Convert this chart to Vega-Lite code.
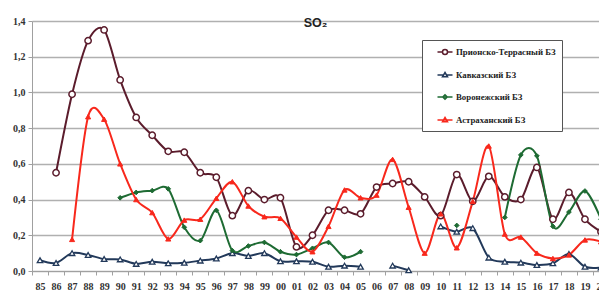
{
  "$schema": "https://vega.github.io/schema/vega-lite/v6.json",
  "width": 577,
  "height": 250,
  "autosize": {"type": "none"},
  "padding": {"left": 32, "top": 21, "right": 0, "bottom": 20},
  "background": "white",
  "config": {
    "view": {"stroke": null},
    "legend": {
      "orient": "none", "legendX": 390, "legendY": 19,
      "strokeColor": "#555555", "fillColor": "white", "padding": 6, "rowPadding": 11,
      "symbolSize": 100, "symbolOffset": 11, "labelOffset": 5, "symbolStrokeWidth": 1.5,
      "labelFont": "Liberation Sans Narrow", "labelFontSize": 8.8, "labelFontWeight": "bold", "labelColor": "#222222"
    }
  },
  "title": {"text": "SO₂", "anchor": "middle", "frame": "group", "offset": -13, "dx": -5, "fontSize": 12.5, "font": "Liberation Sans", "fontWeight": "bold", "color": "#222222"},
  "datasets": {
    "so2": [
      {"yr": "86", "series": "Прионско-Террасный БЗ", "v": 0.55},
      {"yr": "87", "series": "Прионско-Террасный БЗ", "v": 0.99},
      {"yr": "88", "series": "Прионско-Террасный БЗ", "v": 1.29},
      {"yr": "89", "series": "Прионско-Террасный БЗ", "v": 1.35},
      {"yr": "90", "series": "Прионско-Террасный БЗ", "v": 1.07},
      {"yr": "91", "series": "Прионско-Террасный БЗ", "v": 0.86},
      {"yr": "92", "series": "Прионско-Террасный БЗ", "v": 0.76},
      {"yr": "93", "series": "Прионско-Террасный БЗ", "v": 0.67},
      {"yr": "94", "series": "Прионско-Террасный БЗ", "v": 0.665},
      {"yr": "95", "series": "Прионско-Террасный БЗ", "v": 0.55},
      {"yr": "96", "series": "Прионско-Террасный БЗ", "v": 0.525},
      {"yr": "97", "series": "Прионско-Террасный БЗ", "v": 0.31},
      {"yr": "98", "series": "Прионско-Террасный БЗ", "v": 0.45},
      {"yr": "99", "series": "Прионско-Террасный БЗ", "v": 0.40},
      {"yr": "00", "series": "Прионско-Террасный БЗ", "v": 0.41},
      {"yr": "01", "series": "Прионско-Террасный БЗ", "v": 0.135},
      {"yr": "02", "series": "Прионско-Террасный БЗ", "v": 0.20},
      {"yr": "03", "series": "Прионско-Террасный БЗ", "v": 0.34},
      {"yr": "04", "series": "Прионско-Террасный БЗ", "v": 0.34},
      {"yr": "05", "series": "Прионско-Террасный БЗ", "v": 0.32},
      {"yr": "06", "series": "Прионско-Террасный БЗ", "v": 0.47},
      {"yr": "07", "series": "Прионско-Террасный БЗ", "v": 0.49},
      {"yr": "08", "series": "Прионско-Террасный БЗ", "v": 0.50},
      {"yr": "09", "series": "Прионско-Террасный БЗ", "v": 0.415},
      {"yr": "10", "series": "Прионско-Террасный БЗ", "v": 0.31},
      {"yr": "11", "series": "Прионско-Террасный БЗ", "v": 0.54},
      {"yr": "12", "series": "Прионско-Террасный БЗ", "v": 0.39},
      {"yr": "13", "series": "Прионско-Террасный БЗ", "v": 0.53},
      {"yr": "14", "series": "Прионско-Террасный БЗ", "v": 0.415},
      {"yr": "15", "series": "Прионско-Террасный БЗ", "v": 0.40},
      {"yr": "16", "series": "Прионско-Террасный БЗ", "v": 0.58},
      {"yr": "17", "series": "Прионско-Террасный БЗ", "v": 0.29},
      {"yr": "18", "series": "Прионско-Террасный БЗ", "v": 0.44},
      {"yr": "19", "series": "Прионско-Террасный БЗ", "v": 0.29},
      {"yr": "20", "series": "Прионско-Террасный БЗ", "v": 0.22},
      {"yr": "85", "series": "Кавказский БЗ", "v": 0.06},
      {"yr": "86", "series": "Кавказский БЗ", "v": 0.045},
      {"yr": "87", "series": "Кавказский БЗ", "v": 0.10},
      {"yr": "88", "series": "Кавказский БЗ", "v": 0.09},
      {"yr": "89", "series": "Кавказский БЗ", "v": 0.067},
      {"yr": "90", "series": "Кавказский БЗ", "v": 0.065},
      {"yr": "91", "series": "Кавказский БЗ", "v": 0.04},
      {"yr": "92", "series": "Кавказский БЗ", "v": 0.052},
      {"yr": "93", "series": "Кавказский БЗ", "v": 0.043},
      {"yr": "94", "series": "Кавказский БЗ", "v": 0.046},
      {"yr": "95", "series": "Кавказский БЗ", "v": 0.058},
      {"yr": "96", "series": "Кавказский БЗ", "v": 0.07},
      {"yr": "97", "series": "Кавказский БЗ", "v": 0.10},
      {"yr": "98", "series": "Кавказский БЗ", "v": 0.084},
      {"yr": "99", "series": "Кавказский БЗ", "v": 0.10},
      {"yr": "00", "series": "Кавказский БЗ", "v": 0.055},
      {"yr": "01", "series": "Кавказский БЗ", "v": 0.055},
      {"yr": "02", "series": "Кавказский БЗ", "v": 0.052},
      {"yr": "03", "series": "Кавказский БЗ", "v": 0.024},
      {"yr": "04", "series": "Кавказский БЗ", "v": 0.03},
      {"yr": "05", "series": "Кавказский БЗ", "v": 0.024},
      {"yr": "06", "series": "Кавказский БЗ", "v": null},
      {"yr": "07", "series": "Кавказский БЗ", "v": 0.03},
      {"yr": "08", "series": "Кавказский БЗ", "v": 0.004},
      {"yr": "09", "series": "Кавказский БЗ", "v": null},
      {"yr": "10", "series": "Кавказский БЗ", "v": 0.25},
      {"yr": "11", "series": "Кавказский БЗ", "v": 0.22},
      {"yr": "12", "series": "Кавказский БЗ", "v": 0.24},
      {"yr": "13", "series": "Кавказский БЗ", "v": 0.075},
      {"yr": "14", "series": "Кавказский БЗ", "v": 0.052},
      {"yr": "15", "series": "Кавказский БЗ", "v": 0.047},
      {"yr": "16", "series": "Кавказский БЗ", "v": 0.034},
      {"yr": "17", "series": "Кавказский БЗ", "v": 0.043},
      {"yr": "18", "series": "Кавказский БЗ", "v": 0.095},
      {"yr": "19", "series": "Кавказский БЗ", "v": 0.024},
      {"yr": "20", "series": "Кавказский БЗ", "v": 0.02},
      {"yr": "90", "series": "Воронежский БЗ", "v": 0.41},
      {"yr": "91", "series": "Воронежский БЗ", "v": 0.44},
      {"yr": "92", "series": "Воронежский БЗ", "v": 0.45},
      {"yr": "93", "series": "Воронежский БЗ", "v": 0.46},
      {"yr": "94", "series": "Воронежский БЗ", "v": 0.245},
      {"yr": "95", "series": "Воронежский БЗ", "v": 0.17},
      {"yr": "96", "series": "Воронежский БЗ", "v": 0.34},
      {"yr": "97", "series": "Воронежский БЗ", "v": 0.114},
      {"yr": "98", "series": "Воронежский БЗ", "v": 0.14},
      {"yr": "99", "series": "Воронежский БЗ", "v": 0.16},
      {"yr": "00", "series": "Воронежский БЗ", "v": 0.108},
      {"yr": "01", "series": "Воронежский БЗ", "v": 0.092},
      {"yr": "02", "series": "Воронежский БЗ", "v": 0.127},
      {"yr": "03", "series": "Воронежский БЗ", "v": 0.16},
      {"yr": "04", "series": "Воронежский БЗ", "v": 0.077},
      {"yr": "05", "series": "Воронежский БЗ", "v": 0.108},
      {"yr": "06", "series": "Воронежский БЗ", "v": null},
      {"yr": "10", "series": "Воронежский БЗ", "v": null},
      {"yr": "11", "series": "Воронежский БЗ", "v": 0.255},
      {"yr": "12", "series": "Воронежский БЗ", "v": null},
      {"yr": "13", "series": "Воронежский БЗ", "v": null},
      {"yr": "14", "series": "Воронежский БЗ", "v": 0.30},
      {"yr": "15", "series": "Воронежский БЗ", "v": 0.65},
      {"yr": "16", "series": "Воронежский БЗ", "v": 0.645},
      {"yr": "17", "series": "Воронежский БЗ", "v": 0.25},
      {"yr": "18", "series": "Воронежский БЗ", "v": 0.33},
      {"yr": "19", "series": "Воронежский БЗ", "v": 0.448},
      {"yr": "20", "series": "Воронежский БЗ", "v": 0.29},
      {"yr": "87", "series": "Астраханский БЗ", "v": 0.177},
      {"yr": "88", "series": "Астраханский БЗ", "v": 0.864},
      {"yr": "89", "series": "Астраханский БЗ", "v": 0.85},
      {"yr": "90", "series": "Астраханский БЗ", "v": 0.60},
      {"yr": "91", "series": "Астраханский БЗ", "v": 0.40},
      {"yr": "92", "series": "Астраханский БЗ", "v": 0.327},
      {"yr": "93", "series": "Астраханский БЗ", "v": 0.18},
      {"yr": "94", "series": "Астраханский БЗ", "v": 0.285},
      {"yr": "95", "series": "Астраханский БЗ", "v": 0.29},
      {"yr": "96", "series": "Астраханский БЗ", "v": 0.407},
      {"yr": "97", "series": "Астраханский БЗ", "v": 0.50},
      {"yr": "98", "series": "Астраханский БЗ", "v": 0.364},
      {"yr": "99", "series": "Астраханский БЗ", "v": 0.304},
      {"yr": "00", "series": "Астраханский БЗ", "v": 0.295},
      {"yr": "01", "series": "Астраханский БЗ", "v": 0.19},
      {"yr": "02", "series": "Астраханский БЗ", "v": 0.108},
      {"yr": "03", "series": "Астраханский БЗ", "v": 0.25},
      {"yr": "04", "series": "Астраханский БЗ", "v": 0.454},
      {"yr": "05", "series": "Астраханский БЗ", "v": 0.41},
      {"yr": "06", "series": "Астраханский БЗ", "v": 0.425},
      {"yr": "07", "series": "Астраханский БЗ", "v": 0.625},
      {"yr": "08", "series": "Астраханский БЗ", "v": 0.357},
      {"yr": "09", "series": "Астраханский БЗ", "v": 0.10},
      {"yr": "10", "series": "Астраханский БЗ", "v": 0.32},
      {"yr": "11", "series": "Астраханский БЗ", "v": 0.13},
      {"yr": "12", "series": "Астраханский БЗ", "v": 0.39},
      {"yr": "13", "series": "Астраханский БЗ", "v": 0.70},
      {"yr": "14", "series": "Астраханский БЗ", "v": 0.207},
      {"yr": "15", "series": "Астраханский БЗ", "v": 0.19},
      {"yr": "16", "series": "Астраханский БЗ", "v": 0.10},
      {"yr": "17", "series": "Астраханский БЗ", "v": 0.07},
      {"yr": "18", "series": "Астраханский БЗ", "v": 0.09},
      {"yr": "19", "series": "Астраханский БЗ", "v": 0.174},
      {"yr": "20", "series": "Астраханский БЗ", "v": 0.164}
    ]
  },
  "data": {"name": "so2"},
  "encoding": {
    "x": {
      "field": "yr",
      "type": "ordinal",
      "bandPosition": 0.5,
      "title": null,
      "scale": {
        "type": "band",
        "paddingInner": 0,
        "paddingOuter": 0,
        "domain": ["85","86","87","88","89","90","91","92","93","94","95","96","97","98","99","00","01","02","03","04","05","06","07","08","09","10","11","12","13","14","15","16","17","18","19","20"]
      },
      "axis": {
        "tickBand": "extent",
        "grid": false,
        "labelAngle": 0,
        "domainColor": "#a0a0a0",
        "tickColor": "#a0a0a0",
        "tickSize": 4,
        "labelPadding": 6,
        "labelFont": "Liberation Sans Narrow",
        "labelFontSize": 10,
        "labelFontWeight": "bold",
        "labelColor": "#333333"
      }
    },
    "y": {
      "field": "v",
      "type": "quantitative",
      "title": null,
      "scale": {"domain": [0, 1.4], "nice": false},
      "axis": {
        "values": [0, 0.2, 0.4, 0.6, 0.8, 1.0, 1.2, 1.4],
        "labelExpr": "replace(format(datum.value, '.1f'), '.', ',')",
        "grid": true,
        "gridColor": "#b0b0b0",
        "gridWidth": 1.5,
        "domainColor": "#a0a0a0",
        "tickColor": "#a0a0a0",
        "tickSize": 4,
        "labelPadding": 3,
        "labelFont": "Liberation Sans Narrow",
        "labelFontSize": 10,
        "labelFontWeight": "bold",
        "labelColor": "#333333"
      }
    }
  },
  "layer": [
    {
      "mark": {"type": "line", "interpolate": "cardinal", "tension": 0.1, "strokeWidth": 2, "invalid": "break-paths-filter-domains"},
      "encoding": {
        "color": {
          "field": "series",
          "type": "nominal",
          "title": null,
          "scale": {
            "domain": ["Прионско-Террасный БЗ", "Кавказский БЗ", "Воронежский БЗ", "Астраханский БЗ"],
            "range": ["#5b1c2c", "#22395a", "#1e6b33", "#f8281c"]
          }
        }
      }
    },
    {
      "mark": {"type": "point", "strokeWidth": 1.5, "opacity": 0, "filled": false},
      "encoding": {
        "color": {
          "field": "series",
          "type": "nominal",
          "title": null
        },
        "shape": {
          "field": "series",
          "type": "nominal",
          "title": null,
          "scale": {
            "domain": ["Прионско-Террасный БЗ", "Кавказский БЗ", "Воронежский БЗ", "Астраханский БЗ"],
            "range": [
              "M-1.5,0H-0.5M0.5,0H1.5M-0.5,0A0.5,0.5,0,1,1,0.5,0A0.5,0.5,0,1,1,-0.5,0",
              "M-1.5,0H-0.3M0.3,0H1.5M0,-0.5L0.5,0.35L-0.5,0.35Z",
              "M-1.5,0H1.5M0,-0.45L0.45,0L0,0.45L-0.45,0Z",
              "M-1.5,0H1.5M0,-0.5L0.5,0.35L-0.5,0.35Z"
            ]
          }
        }
      }
    },
    {
      "transform": [{"filter": {"field": "series", "equal": "Прионско-Террасный БЗ"}}],
      "mark": {"type": "point", "shape": "circle", "filled": true, "fill": "white", "stroke": "#5b1c2c", "strokeWidth": 1.5, "size": 40, "opacity": 1}
    },
    {
      "transform": [{"filter": {"field": "series", "equal": "Кавказский БЗ"}}],
      "mark": {"type": "point", "shape": "triangle-up", "filled": true, "fill": "white", "stroke": "#22395a", "strokeWidth": 1.3, "size": 30, "opacity": 1}
    },
    {
      "transform": [{"filter": {"field": "series", "equal": "Воронежский БЗ"}}],
      "mark": {"type": "point", "shape": "diamond", "filled": true, "fill": "#1e6b33", "stroke": "#1e6b33", "strokeWidth": 1, "size": 22, "opacity": 1}
    },
    {
      "transform": [{"filter": {"field": "series", "equal": "Астраханский БЗ"}}],
      "mark": {"type": "point", "shape": "triangle-up", "filled": true, "fill": "#f8281c", "stroke": "#f8281c", "strokeWidth": 1, "size": 26, "opacity": 1}
    }
  ]
}
